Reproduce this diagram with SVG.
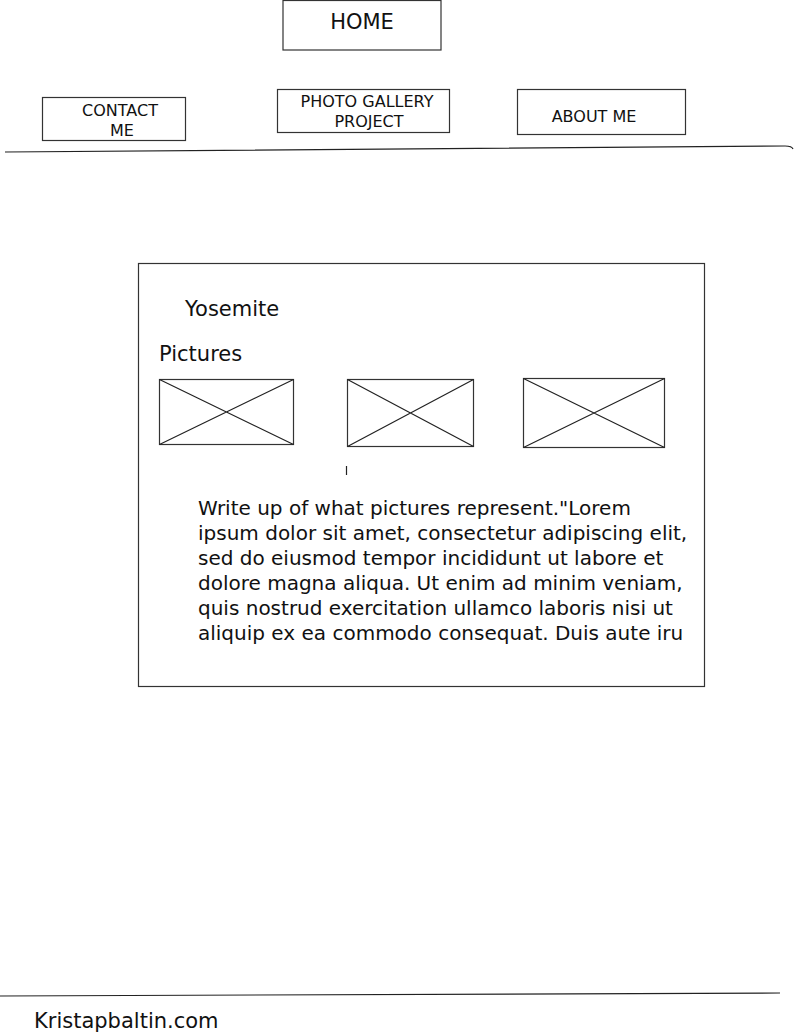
<svg xmlns="http://www.w3.org/2000/svg" width="796" height="1033" viewBox="0 0 796 1033">
<style>
.box{fill:#fff;stroke:#333;stroke-width:1.2}
.ln{fill:none;stroke:#222;stroke-width:1.2}
.t{font-family:"DejaVu Sans",Verdana,sans-serif;fill:#111}
.nav{font-size:16px}
.big{font-size:21px}
.body{font-size:20px}
</style>
<rect width="796" height="1033" fill="#fff"/>
<g id="home">
<rect class="box" x="283" y="0.5" width="158" height="49.5"/>
<text class="t big" x="362" y="29" text-anchor="middle">HOME</text>
</g>
<g id="contact">
<rect class="box" x="42.5" y="97.5" width="143" height="43"/>
<text class="t nav" x="120" y="116" text-anchor="middle">CONTACT</text>
<text class="t nav" x="122" y="136" text-anchor="middle">ME</text>
</g>
<g id="gallery">
<rect class="box" x="277.5" y="89.5" width="172" height="43"/>
<text class="t nav" x="367" y="107" text-anchor="middle">PHOTO GALLERY</text>
<text class="t nav" x="369" y="127" text-anchor="middle">PROJECT</text>
</g>
<g id="about">
<rect class="box" x="517.5" y="89.5" width="168" height="45"/>
<text class="t nav" x="594" y="122" text-anchor="middle">ABOUT ME</text>
</g>
<g id="connectors">
<path class="ln" d="M5 152 L785 146 Q792 146 793 149"/>
<path class="ln" d="M0 996 L780 993"/>
</g>
<g id="content">
<rect class="box" x="138.5" y="263.5" width="566" height="423"/>
<text class="t big" x="185" y="316">Yosemite</text>
<text class="t big" x="159" y="361">Pictures</text>
</g>
<g id="img1">
<rect class="box" x="159.5" y="379.5" width="134" height="65"/>
<path class="ln" d="M159.5 379.5 L293.5 444.5 M159.5 444.5 L293.5 379.5"/>
</g>
<g id="img2">
<rect class="box" x="347.5" y="379.5" width="126" height="67"/>
<path class="ln" d="M347.5 379.5 L473.5 446.5 M347.5 446.5 L473.5 379.5"/>
</g>
<g id="img3">
<rect class="box" x="523.5" y="378.5" width="141" height="69"/>
<path class="ln" d="M523.5 378.5 L664.5 447.5 M523.5 447.5 L664.5 378.5"/>
</g>
<path class="ln" d="M346.5 466 L346.5 475"/>
<g id="writeup">
<text class="t body" x="198">
<tspan x="198" y="515">Write up of what pictures represent."Lorem</tspan>
<tspan x="198" y="540">ipsum dolor sit amet, consectetur adipiscing elit,</tspan>
<tspan x="198" y="565">sed do eiusmod tempor incididunt ut labore et</tspan>
<tspan x="198" y="590">dolore magna aliqua. Ut enim ad minim veniam,</tspan>
<tspan x="198" y="615">quis nostrud exercitation ullamco laboris nisi ut</tspan>
<tspan x="198" y="640">aliquip ex ea commodo consequat. Duis aute iru</tspan>
</text>
</g>
<g id="footer">
<text class="t big" x="34" y="1028">Kristapbaltin.com</text>
</g>
</svg>
